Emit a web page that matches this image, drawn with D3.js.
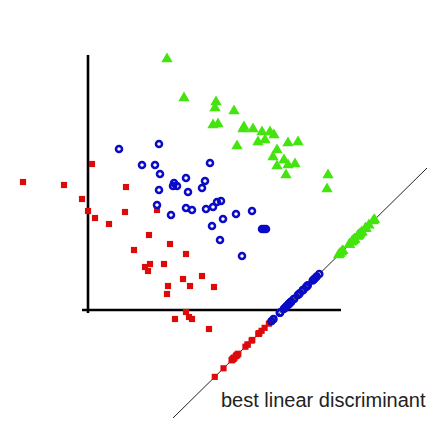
<!DOCTYPE html>
<html>
<head>
<meta charset="utf-8">
<script src="https://cdn.jsdelivr.net/npm/d3@7"></script>
<style>
  body { margin: 0; background: #fff; }
</style>
</head>
<body>
<div id="graphic"></div>
<script>
// class 1 (red squares)
const redX = [-2.60, -0.96, 0.16, -0.24, 0.00, 0.28, 0.84, 1.52, 1.48, 1.84, 2.76, 2.44, 3.28, 3.92, 2.48,
              2.28, 2.40, 3.04, 3.80, 4.08, 3.20, 3.16, 4.56, 5.04, 3.92, 4.04, 4.16, 3.48, 4.84];
const redY = [5.12, 5.00, 5.84, 4.44, 3.96, 3.68, 3.44, 4.92, 3.92, 2.40, 4.00, 3.00, 2.64, 2.24, 1.84,
              1.72, 1.56, 1.84, 1.24, 0.96, 0.96, 0.64, 1.36, 0.92, -0.08, -0.28, -0.36, -0.36, -0.76];

// class 2 (blue rings)
const blueX = [1.24, 2.84, 2.16, 2.68, 2.88, 3.44, 3.56, 3.40, 3.92, 2.84, 4.00, 4.88, 4.68, 4.56, 2.76, 3.32,
               3.92, 4.16, 4.72, 5.00, 5.16, 5.32, 4.96, 5.40, 5.92, 6.56, 7.04, 6.96, 7.12, 5.28, 6.16];
const blueY = [6.44, 6.64, 5.80, 5.80, 5.44, 5.08, 4.96, 4.96, 5.28, 4.80, 4.72, 5.88, 5.16, 4.88, 4.20, 3.80,
               4.08, 4.00, 4.04, 4.12, 4.32, 4.36, 3.36, 3.64, 3.84, 3.96, 3.24, 3.24, 3.24, 2.80, 2.16];

// class 3 (green triangles)
const greenX = [3.16, 3.84, 5.12, 5.08, 5.84, 5.00, 5.20, 6.20, 5.96, 6.24, 6.60, 6.96, 7.28, 7.44,
                6.80, 7.08, 8.00, 8.40, 7.56, 7.40, 7.84, 7.56, 8.00, 8.28, 7.92, 9.60, 9.56];
const greenY = [10.04, 8.48, 8.32, 8.08, 7.96, 7.40, 7.44, 7.24, 6.56, 7.32, 7.24, 7.12, 7.12, 7.00,
                6.72, 6.80, 6.68, 6.72, 6.40, 6.12, 6.00, 5.76, 5.80, 5.84, 5.40, 5.40, 4.84];

// discriminant direction, two points on it
const lineStart = [3.40, -4.32];
const lineEnd = [13.56, 5.68];

const label = "best linear discriminant";

const width = 435, height = 421;

var svg = d3.select("#graphic").append("svg")
        .attr("width", width)
        .attr("height", height);

// same px per unit on both axes so the projection stays orthogonal
var xscale = d3.scaleLinear().domain([0, 10]).range([88, 338]);
var yscale = d3.scaleLinear().domain([0, 10]).range([310, 60]);

// axes (plain lines, no ticks)
svg.append("line")
        .attr("x1", xscale(0)).attr("y1", yscale(10.2))
        .attr("x2", xscale(0)).attr("y2", yscale(-0.12))
        .style("stroke", "#000").style("stroke-width", 2.6);

svg.append("line")
        .attr("x1", xscale(-0.24)).attr("y1", yscale(0))
        .attr("x2", xscale(10.12)).attr("y2", yscale(0))
        .style("stroke", "#000").style("stroke-width", 2.6);

// discriminant line
svg.append("line")
        .attr("x1", xscale(lineStart[0])).attr("y1", yscale(lineStart[1]))
        .attr("x2", xscale(lineEnd[0])).attr("y2", yscale(lineEnd[1]))
        .style("stroke", "#222").style("stroke-width", 1);

// project a point onto the discriminant line
var dx = lineEnd[0] - lineStart[0], dy = lineEnd[1] - lineStart[1];
var len = Math.sqrt(dx * dx + dy * dy);
dx /= len; dy /= len;
function project(p) {
    var t = (p[0] - lineStart[0]) * dx + (p[1] - lineStart[1]) * dy;
    return [lineStart[0] + t * dx, lineStart[1] + t * dy];
}

var classes = [
    {name: "red", xs: redX, ys: redY},
    {name: "blue", xs: blueX, ys: blueY},
    {name: "green", xs: greenX, ys: greenY}
];

var square = d3.symbol().type(d3.symbolSquare).size(38);
var triangle = d3.symbol().type(d3.symbolTriangle).size(56);
var ring = d3.symbol().type(d3.symbolCircle).size(28);

function drawClass(g, pts, name) {
    var sel = g.selectAll("path." + name).data(pts).enter().append("path")
        .attr("class", name)
        .attr("transform", d => "translate(" + xscale(d[0]) + "," + yscale(d[1]) + ")");
    if (name === "red") {
        sel.attr("d", square).style("fill", "#dd0a0a");
    } else if (name === "blue") {
        sel.attr("d", ring)
            .style("fill", "none").style("stroke", "#0a0ac8").style("stroke-width", 2.6);
    } else {
        sel.attr("d", triangle).style("fill", "#44e40e");
    }
}

var gPoints = svg.append("g");
var gProj = svg.append("g");

classes.forEach(function(c) {
    var pts = c.xs.map((x, i) => [x, c.ys[i]]);
    drawClass(gPoints, pts, c.name);
    drawClass(gProj, pts.map(project), c.name);
});

svg.append("text")
        .attr("x", 221)
        .attr("y", 407)
        .style("font-family", "'Liberation Sans', Arial, Helvetica, sans-serif")
        .style("font-size", "20px")
        .style("fill", "#222")
        .text(label);
</script>
</body>
</html>
